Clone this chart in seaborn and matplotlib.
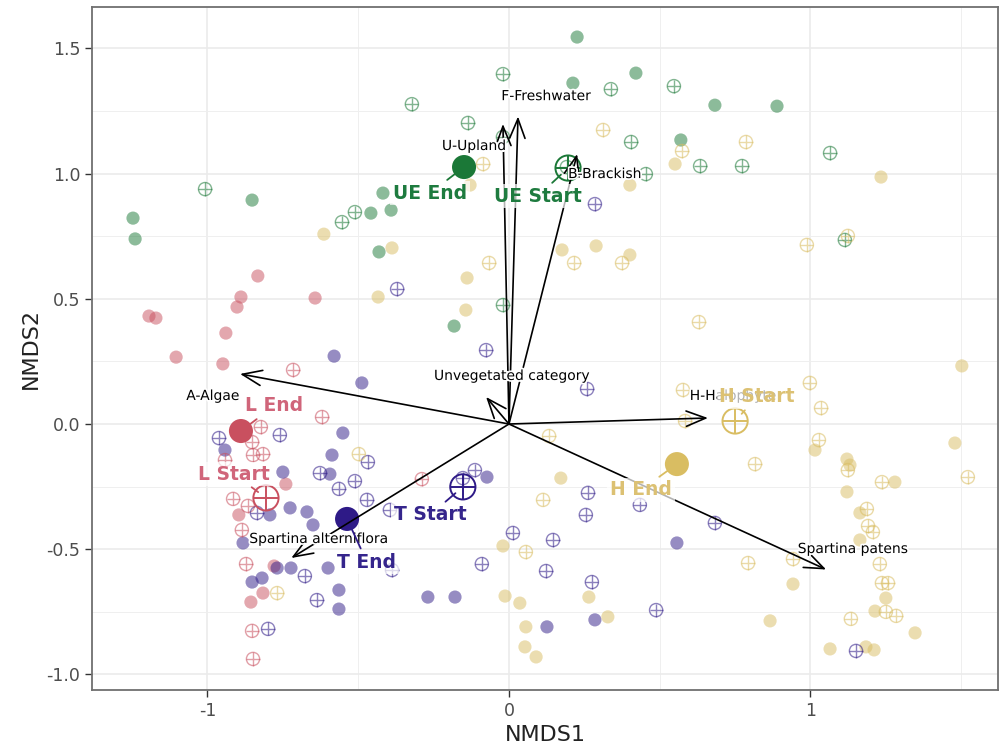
import numpy as np
import pandas as pd
import matplotlib
matplotlib.use('Agg')
import matplotlib.pyplot as plt
import matplotlib.patheffects as pe
import seaborn as sns

ue_end_x = [0.226, 0.212, 0.421, 0.683, 0.889, 0.570, -1.247, -1.240, -0.852, -0.458, -0.391, -0.418, -0.431, -0.182]
ue_end_y = [1.545, 1.361, 1.401, 1.273, 1.269, 1.134, 0.822, 0.739, 0.894, 0.842, 0.854, 0.922, 0.687, 0.391]
ue_start_x = [-0.020, -0.322, -0.136, -1.008, -0.511, -0.554, 0.338, 0.547, 0.405, 0.634, 0.773, 1.065, 1.114, -0.020, 0.454, 0.192, -0.020]
ue_start_y = [1.397, 1.277, 1.202, 0.938, 0.846, 0.806, 1.337, 1.349, 1.126, 1.030, 1.030, 1.082, 0.735, 0.475, 0.998, 1.026, 1.146]

l_end_x = [-0.833, -0.889, -0.902, -0.939, -0.643, -1.194, -1.171, -1.104, -0.949, -0.740, -0.896, -0.779, -0.816, -0.856]
l_end_y = [0.591, 0.507, 0.467, 0.363, 0.503, 0.431, 0.423, 0.267, 0.240, -0.240, -0.363, -0.567, -0.675, -0.711]
l_start_x = [-0.716, -0.620, -0.823, -0.852, -0.816, -0.849, -0.942, -0.915, -0.866, -0.886, -0.872, -0.852, -0.849, -0.289]
l_start_y = [0.216, 0.028, -0.012, -0.072, -0.120, -0.124, -0.144, -0.299, -0.327, -0.423, -0.559, -0.826, -0.938, -0.220]

t_end_x = [-0.580, -0.488, -0.551, -0.587, -0.594, -0.942, -0.750, -0.726, -0.670, -0.793, -0.650, -0.882, -0.769,
           -0.723, -0.600, -0.852, -0.819, -0.564, -0.564, -0.073, -0.269, -0.179, 0.126, 0.285, 0.557]
t_end_y = [0.271, 0.164, -0.036, -0.124, -0.200, -0.104, -0.192, -0.335, -0.351, -0.363, -0.403, -0.475, -0.575,
           -0.575, -0.575, -0.631, -0.615, -0.663, -0.739, -0.212, -0.691, -0.691, -0.810, -0.782, -0.475]
t_start_x = [-0.371, -0.076, 0.285, 0.259, -0.962, -0.760, -0.468, -0.627, -0.511, -0.564, -0.471, -0.836, -0.677, -0.637, -0.799,
             -0.113, -0.153, 0.262, 0.255, 0.434, 0.013, 0.146, -0.090, 0.123, 0.275, 0.488, 0.683, 1.151, -0.395, -0.388]
t_start_y = [0.539, 0.295, 0.878, 0.140, -0.056, -0.044, -0.152, -0.196, -0.228, -0.259, -0.303, -0.355, -0.607, -0.703, -0.818,
             -0.184, -0.216, -0.275, -0.363, -0.323, -0.435, -0.463, -0.559, -0.587, -0.631, -0.743, -0.395, -0.906, -0.343, -0.583]

h_end_x = [-0.614, -0.388, -0.434, -0.143, -0.139, 0.176, 0.289, 0.401, 0.401, 0.551, 1.234, 1.502, 1.479, 1.015, 1.121, 1.131,
           1.280, 1.121, 1.164, 1.164, 0.942, 1.250, 1.214, 1.347, 1.065, 1.184, 1.211, 0.866, 0.172, -0.020, -0.013, 0.036,
           0.056, 0.053, 0.090, 0.265, 0.328, -0.129]
h_end_y = [0.758, 0.703, 0.507, 0.455, 0.583, 0.695, 0.711, 0.675, 0.954, 1.038, 0.986, 0.232, -0.076, -0.104, -0.140, -0.164,
           -0.232, -0.271, -0.355, -0.463, -0.639, -0.695, -0.747, -0.834, -0.898, -0.890, -0.902, -0.786, -0.216, -0.487, -0.687, -0.715,
           -0.810, -0.890, -0.930, -0.691, -0.770, 0.954]
h_start_x = [0.312, 0.786, 0.574, -0.086, -0.066, 0.216, 0.375, 0.988, 1.124, 0.630, 0.577, 0.998, 1.035, 1.028, 0.584, 0.133,
             0.816, 1.124, 1.237, 1.522, 1.187, 1.191, 1.207, 1.230, 1.237, 1.257, 1.250, 1.284, 1.134, 0.793, 0.942, 0.113,
             0.056, -0.769, -0.498]
h_start_y = [1.174, 1.126, 1.090, 1.038, 0.643, 0.643, 0.643, 0.715, 0.751, 0.407, 0.136, 0.164, 0.064, -0.064, 0.012, -0.048,
             -0.160, -0.184, -0.232, -0.212, -0.339, -0.407, -0.431, -0.559, -0.635, -0.635, -0.750, -0.766, -0.778, -0.555, -0.539, -0.303,
             -0.511, -0.675, -0.120]

# group centroids
cent_names = ['UE End', 'UE Start', 'L End', 'L Start', 'T End', 'T Start', 'H End', 'H Start']
cent_group = ['UE', 'UE', 'L', 'L', 'T', 'T', 'H', 'H']
cent_x = [-0.149, 0.196, -0.889, -0.806, -0.537, -0.153, 0.557, 0.750]
cent_y = [1.026, 1.022, -0.028, -0.295, -0.379, -0.251, -0.160, 0.012]
lab_x = [-0.262, 0.096, -0.779, -0.912, -0.471, -0.262, 0.438, 0.823]
lab_y = [0.922, 0.910, 0.072, -0.200, -0.551, -0.363, -0.263, 0.108]

# fitted vectors (envfit)
vec_names = ['F-Freshwater', 'U-Upland', 'B-Brackish', 'Unvegetated category', 'A-Algae',
             'H-Halophyte', 'Spartina patens', 'Spartina alterniflora']
vec_x = [0.030, -0.020, 0.226, -0.076, -0.892, 0.660, 1.052, -0.722]
vec_y = [1.228, 1.198, 1.078, 0.108, 0.200, 0.024, -0.581, -0.535]
vec_lab_x = [0.123, -0.116, 0.318, 0.010, -0.982, 0.743, 1.141, -0.630]
vec_lab_y = [1.309, 1.110, 0.998, 0.192, 0.112, 0.112, -0.499, -0.459]

palette = {'UE': '#1B7837', 'L': '#C9505F', 'T': '#2E1A87', 'H': '#D9BD62'}
text_col = {'UE': '#1E7B3F', 'L': '#D0657A', 'T': '#35258C', 'H': '#DCC173'}

rows = []
for g, per, xs, ys in [('UE', 'End', ue_end_x, ue_end_y), ('UE', 'Start', ue_start_x, ue_start_y),
                       ('L', 'End', l_end_x, l_end_y), ('L', 'Start', l_start_x, l_start_y),
                       ('T', 'End', t_end_x, t_end_y), ('T', 'Start', t_start_x, t_start_y),
                       ('H', 'End', h_end_x, h_end_y), ('H', 'Start', h_start_x, h_start_y)]:
    rows += [dict(x=a, y=b, group=g, period=per) for a, b in zip(xs, ys)]
df = pd.DataFrame(rows)
cent = pd.DataFrame(dict(x=cent_x, y=cent_y, group=cent_group, name=cent_names))
cent['period'] = cent['name'].str.split(' ').str[1]

sns.set_style('white')
fig = plt.figure(figsize=(9.99, 7.52), dpi=100)
ax = fig.add_axes([92 / 999, 1 - 690 / 752, (998 - 92) / 999, (690 - 7) / 752])


def hollow(data, size, lw, alpha):
    sns.scatterplot(data=data, x='x', y='y', hue='group', palette=palette, marker='o', s=size,
                    alpha=alpha, linewidth=lw, legend=False, ax=ax, zorder=3)
    coll = ax.collections[-1]
    coll.set_edgecolors(coll.get_facecolors())
    coll.set_facecolors('none')
    sns.scatterplot(data=data, x='x', y='y', hue='group', palette=palette, marker='+', s=size,
                    alpha=alpha, linewidth=lw, legend=False, ax=ax, zorder=3)


sns.scatterplot(data=df[df.period == 'End'], x='x', y='y', hue='group', palette=palette, s=90,
                alpha=0.5, linewidth=0, legend=False, ax=ax, zorder=3)
hollow(df[df.period == 'Start'], 90, 1.0, 0.55)

sns.scatterplot(data=cent[cent.period == 'End'], x='x', y='y', hue='group', palette=palette, s=300,
                linewidth=0, legend=False, ax=ax, zorder=4)
hollow(cent[cent.period == 'Start'], 330, 1.4, 1.0)

# vectors
for vx, vy in zip(vec_x, vec_y):
    ax.annotate('', xy=(vx, vy), xytext=(0, 0),
                arrowprops=dict(arrowstyle='->,head_length=1.4,head_width=0.55', color='black', lw=1.2,
                                shrinkA=0, shrinkB=0), zorder=5)
for name, tx, ty in zip(vec_names, vec_lab_x, vec_lab_y):
    ax.text(tx, ty, name, fontsize=10, ha='center', va='center', color='black', zorder=6,
            path_effects=[pe.withStroke(linewidth=2.5, foreground='white')])

# centroid labels
for name, g, cx, cy, tx, ty in zip(cent_names, cent_group, cent_x, cent_y, lab_x, lab_y):
    ax.annotate(name, xy=(cx, cy), xytext=(tx, ty), fontsize=13.5, fontweight='bold', color=text_col[g],
                ha='center', va='center', zorder=7,
                bbox=dict(boxstyle='square,pad=0.15', fc='white', ec='none', alpha=0.7),
                arrowprops=dict(arrowstyle='-', color=palette[g], lw=1.3, shrinkA=1, shrinkB=7))

ax.set_xlim(-1.383, 1.622)
ax.set_ylim(-1.062, 1.665)
ax.set_xticks([-1, 0, 1])
ax.set_xticklabels(['-1', '0', '1'])
ax.set_yticks([-1.0, -0.5, 0.0, 0.5, 1.0, 1.5])
ax.set_yticklabels(['-1.0', '-0.5', '0.0', '0.5', '1.0', '1.5'])
ax.set_xticks([-0.5, 0.5, 1.5], minor=True)
ax.set_yticks([-0.75, -0.25, 0.25, 0.75, 1.25], minor=True)
ax.grid(which='major', color='#EBEBEB', lw=1.2)
ax.grid(which='minor', color='#EFEFEF', lw=0.7)
ax.set_axisbelow(True)
ax.tick_params(which='major', direction='out', length=5, width=1, color='#333333',
               labelcolor='#4D4D4D', labelsize=12.5, bottom=True, left=True)
ax.tick_params(which='minor', length=0)
for sp in ax.spines.values():
    sp.set_color('#707070')
    sp.set_linewidth(1.3)
ax.set_xlabel('NMDS1', fontsize=16, color='#222222')
ax.set_ylabel('NMDS2', fontsize=16, color='#222222')

fig.savefig('out.png', dpi=100)
